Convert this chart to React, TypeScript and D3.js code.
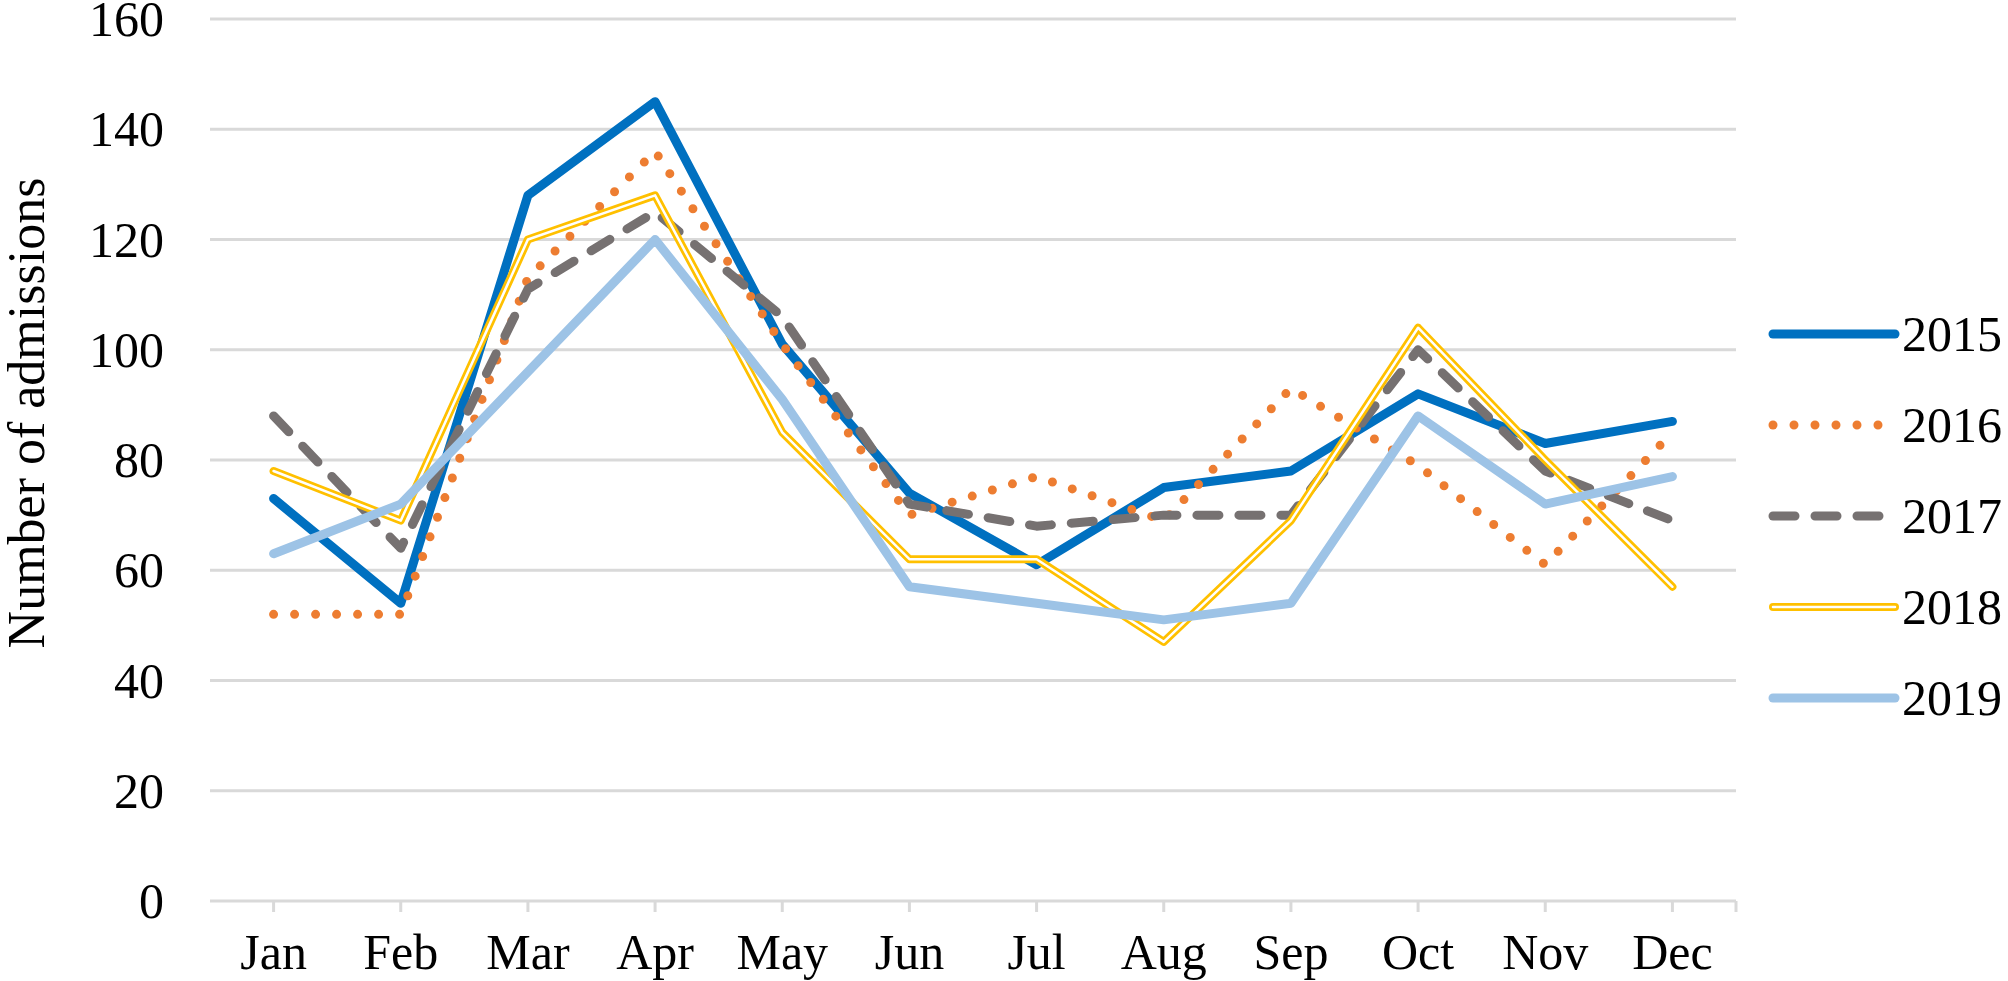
import React, { useEffect, useRef } from "react";
import * as d3 from "d3";

const months = ["Jan", "Feb", "Mar", "Apr", "May", "Jun", "Jul", "Aug", "Sep", "Oct", "Nov", "Dec"];
const yTicks = [0, 20, 40, 60, 80, 100, 120, 140, 160];

const values2015 = [73, 54, 128, 145, 101, 74, 61, 75, 78, 92, 83, 87];
const values2016 = [52, 52, 113, 136, 101, 70, 77, 69, 93, 79, 61, 85];
const values2017 = [88, 64, 111, 125, 106, 72, 68, 70, 70, 100, 78, 69];
const values2018 = [78, 69, 120, 128, 85, 62, 62, 47, 69, 104, 80, 57];
const values2019 = [63, 72, 96, 120, 91, 57, 54, 51, 54, 88, 72, 77];

const seriesNames = ["2015", "2016", "2017", "2018", "2019"];
const seriesValues = [values2015, values2016, values2017, values2018, values2019];

const WIDTH = 2008;
const HEIGHT = 981;
const FONT = "'Liberation Serif', 'Times New Roman', serif";

// how each year is drawn (colour, width, dashes); 2018 is a double line
const styles: { color: string; width: number; dash?: string; double?: boolean }[] = [
  { color: "#0070C0", width: 9 },
  { color: "#ED7D31", width: 9, dash: "0 21" },
  { color: "#767171", width: 9, dash: "22 20" },
  { color: "#FFC000", width: 8, double: true },
  { color: "#9DC3E6", width: 9 },
];

const LineChart: React.FC = () => {
  const chartRef = useRef<SVGSVGElement | null>(null);

  useEffect(() => {
    const svg = d3.select(chartRef.current);
    svg.selectAll("*").remove();

    const left = 210;
    const right = 1736;
    const x = d3.scaleBand<string>().domain(months).range([left, right]);
    const y = d3.scaleLinear().domain([0, 160]).range([901, 19]);
    const cx = (m: string) => (x(m) || 0) + x.bandwidth() / 2;

    svg.append("rect").attr("width", WIDTH).attr("height", HEIGHT).attr("fill", "#fff");

    // gridlines
    svg
      .selectAll(".grid")
      .data(yTicks)
      .enter()
      .append("line")
      .attr("x1", left)
      .attr("x2", right)
      .attr("y1", (d) => y(d))
      .attr("y2", (d) => y(d))
      .attr("stroke", "#d9d9d9")
      .attr("stroke-width", 3);

    // tick marks under the axis
    const tickXs = months.map(cx).concat([right]);
    svg
      .selectAll(".tick")
      .data(tickXs)
      .enter()
      .append("line")
      .attr("x1", (d) => d)
      .attr("x2", (d) => d)
      .attr("y1", y(0))
      .attr("y2", y(0) + 11)
      .attr("stroke", "#d9d9d9")
      .attr("stroke-width", 3);

    // y labels
    svg
      .selectAll(".ylab")
      .data(yTicks)
      .enter()
      .append("text")
      .attr("x", 164)
      .attr("y", (d) => y(d))
      .attr("dy", "0.34em")
      .attr("text-anchor", "end")
      .attr("font-family", FONT)
      .attr("font-size", 50)
      .attr("fill", "#000")
      .text((d) => d);

    // x labels
    svg
      .selectAll(".xlab")
      .data(months)
      .enter()
      .append("text")
      .attr("x", (d) => cx(d))
      .attr("y", 969)
      .attr("text-anchor", "middle")
      .attr("font-family", FONT)
      .attr("font-size", 50)
      .attr("fill", "#000")
      .text((d) => d);

    // axis title
    svg
      .append("text")
      .attr("transform", "translate(44, 413) rotate(-90)")
      .attr("text-anchor", "middle")
      .attr("font-family", FONT)
      .attr("font-size", 52)
      .attr("fill", "#000")
      .text("Number of admissions");

    const line = d3
      .line<number>()
      .x((_, i) => cx(months[i]))
      .y((d) => y(d));

    const drawStroke = (
      g: d3.Selection<SVGGElement, unknown, null, undefined>,
      d: string,
      s: (typeof styles)[number]
    ) => {
      const p = g
        .append("path")
        .attr("d", d)
        .attr("fill", "none")
        .attr("stroke", s.color)
        .attr("stroke-width", s.width)
        .attr("stroke-linejoin", "round")
        .attr("stroke-linecap", "round");
      if (s.dash) p.attr("stroke-dasharray", s.dash);
      if (s.double) {
        g.append("path")
          .attr("d", d)
          .attr("fill", "none")
          .attr("stroke", "#fff")
          .attr("stroke-width", 2.5)
          .attr("stroke-linejoin", "round")
          .attr("stroke-linecap", "round");
      }
    };

    seriesValues.forEach((vals, i) => {
      const g = svg.append("g");
      drawStroke(g, line(vals) || "", styles[i]);
    });

    // legend
    const legendX1 = 1773;
    const legendX2 = 1895;
    seriesNames.forEach((name, i) => {
      const ly = 334 + i * 91;
      const g = svg.append("g");
      drawStroke(g, `M${legendX1},${ly}L${legendX2},${ly}`, styles[i]);
      g.append("text")
        .attr("x", 1902)
        .attr("y", ly)
        .attr("dy", "0.34em")
        .attr("font-family", FONT)
        .attr("font-size", 50)
        .attr("fill", "#000")
        .text(name);
    });

    return () => {
      d3.select(chartRef.current).selectAll("*").remove();
    };
  }, []);

  return <svg ref={chartRef} width={WIDTH} height={HEIGHT} style={{ display: "block" }} />;
};

export default function App() {
  return (
    <div style={{ position: "absolute", left: 0, top: 0, width: WIDTH, height: HEIGHT, background: "#fff" }}>
      <LineChart />
    </div>
  );
}
